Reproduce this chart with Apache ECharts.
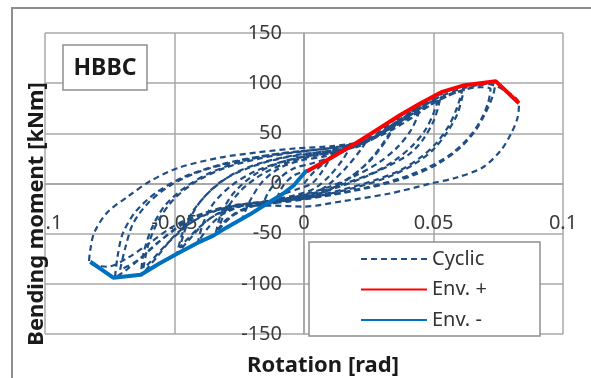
<!DOCTYPE html>
<html>
<head>
<meta charset="utf-8">
<script src="https://cdn.jsdelivr.net/npm/echarts@6/dist/echarts.min.js"></script>
<style>
html,body{margin:0;padding:0;background:#fff;}
#chart{width:591px;height:378px;}
</style>
</head>
<body>
<div id="chart"></div>
<script>
// ---- data (rotation [rad], bending moment [kNm]) ----
const seriesNames = ['Cyclic', 'Env. +', 'Env. -'];
const xTicks = [-0.1, -0.05, 0, 0.05, 0.1];
const yTicks = [-150, -100, -50, 0, 50, 100, 150];

const envPos = [[0.001,12],[0.010,25],[0.018,37],[0.026,50],[0.037,68],[0.045,80],[0.053,91],[0.062,98],[0.074,102],[0.083,80]];
const envNeg = [[0.001,13],[-0.004,-2],[-0.008,-10],[-0.013,-18],[-0.021,-31],[-0.030,-44],[-0.035,-52],[-0.041,-59],[-0.049,-70],[-0.056,-80],[-0.063,-91],[-0.0735,-94],[-0.0825,-78]];

const cyc1 = [[0,0],[0.004,12],[0.010,25],[0.007,12],[0.003,0],[-0.003,-6],[-0.010,-12],[-0.008,-2],[-0.004,8],[0.001,13]];
const cyc2 = [[0.008,22],[0.013,29],[0.018,37],[0.015,24],[0.010,8],[0.004,-5],[-0.004,-12],[-0.011,-16],[-0.016,-22],[-0.014,-10],[-0.010,4],[-0.004,15],[0.003,20]];
const cyc3 = [[0.010,26],[0.018,36],[0.026,50],[0.022,34],[0.016,15],[0.009,-2],[0.002,-12],[-0.007,-17],[-0.016,-23],[-0.024,-36],[-0.021,-18],[-0.016,2],[-0.009,16],[-0.001,23],[0.008,27]];
const cyc4 = [[0.016,33],[0.026,46],[0.037,68],[0.033,50],[0.027,28],[0.019,8],[0.010,-6],[0.001,-14],[-0.010,-18],[-0.020,-23],[-0.028,-33],[-0.034,-49],[-0.032,-30],[-0.027,-9],[-0.019,9],[-0.009,21],[0.001,27],[0.011,31]];
const cyc4b = [[0.020,37],[0.029,50],[0.036,62],[0.032,44],[0.026,24],[0.017,5],[0.008,-8],[-0.002,-15],[-0.013,-19],[-0.023,-25],[-0.030,-36],[-0.033,-45],[-0.030,-26],[-0.024,-6],[-0.015,11],[-0.005,22],[0.005,28],[0.014,32]];
const cyc45 = [[0.020,38],[0.030,50],[0.038,64],[0.045,80],[0.044,68],[0.041,52],[0.036,36],[0.029,21],[0.020,8],[0.010,-3],[0,-11],[-0.011,-17],[-0.022,-21],[-0.031,-30],[-0.037,-44],[-0.041,-59],[-0.039,-40],[-0.035,-20],[-0.028,-2],[-0.019,12],[-0.008,22],[0.004,29],[0.016,34]];
const cyc5 = [[0.022,38],[0.031,53],[0.042,73],[0.053,91],[0.052,78],[0.050,62],[0.046,44],[0.041,30],[0.033,18],[0.024,7],[0.014,-3],[0.004,-11],[-0.007,-16],[-0.018,-20],[-0.028,-25],[-0.037,-36],[-0.043,-52],[-0.049,-70],[-0.047,-50],[-0.043,-28],[-0.036,-7],[-0.027,10],[-0.016,21],[-0.004,28],[0.008,32],[0.018,36]];
const cyc5b = [[0.027,45],[0.037,62],[0.046,78],[0.052,86],[0.050,70],[0.047,54],[0.042,38],[0.035,23],[0.027,11],[0.017,1],[0.006,-8],[-0.005,-14],[-0.016,-18],[-0.026,-22],[-0.034,-31],[-0.041,-45],[-0.046,-58],[-0.048,-64],[-0.045,-40],[-0.040,-18],[-0.032,2],[-0.021,16],[-0.009,25],[0.003,30],[0.014,34]];
const cyc6 = [[0.024,41],[0.034,57],[0.046,80],[0.055,92],[0.062,98],[0.061,85],[0.059,68],[0.055,50],[0.050,34],[0.043,20],[0.034,8],[0.024,-1],[0.012,-9],[0,-15],[-0.012,-18],[-0.024,-21],[-0.034,-27],[-0.043,-38],[-0.050,-52],[-0.057,-74],[-0.063,-92],[-0.062,-70],[-0.059,-46],[-0.054,-23],[-0.046,-4],[-0.036,11],[-0.024,22],[-0.011,29],[0.003,33],[0.016,37]];
const cyc6b = [[0.026,45],[0.037,62],[0.048,80],[0.056,89],[0.061,92],[0.059,75],[0.056,58],[0.051,40],[0.045,26],[0.037,13],[0.027,3],[0.015,-6],[0.003,-13],[-0.009,-17],[-0.021,-20],[-0.032,-25],[-0.040,-33],[-0.047,-46],[-0.054,-63],[-0.060,-80],[-0.062,-84],[-0.060,-60],[-0.056,-36],[-0.050,-15],[-0.041,3],[-0.030,16],[-0.017,25],[-0.004,31],[0.009,35]];
const cyc7 = [[0.020,40],[0.030,50],[0.041,68],[0.052,86],[0.063,96],[0.074,101],[0.073,88],[0.070,70],[0.066,52],[0.060,35],[0.052,20],[0.043,9],[0.032,0],[0.020,-7],[0.007,-13],[-0.006,-18],[-0.019,-21],[-0.031,-25],[-0.043,-35],[-0.053,-52],[-0.062,-72],[-0.069,-87],[-0.073,-94],[-0.072,-73],[-0.070,-50],[-0.065,-28],[-0.057,-9],[-0.046,7],[-0.032,19],[-0.017,27],[-0.002,32],[0.013,36]];
const cyc7b = [[0.024,43],[0.035,57],[0.047,76],[0.058,90],[0.068,96],[0.072,94],[0.071,80],[0.068,62],[0.063,44],[0.056,28],[0.047,15],[0.037,5],[0.024,-4],[0.010,-11],[-0.004,-16],[-0.017,-19],[-0.028,-22],[-0.038,-29],[-0.047,-40],[-0.057,-60],[-0.065,-78],[-0.071,-86],[-0.069,-64],[-0.066,-40],[-0.060,-19],[-0.051,-1],[-0.039,13],[-0.024,23],[-0.009,30],[0.006,34],[0.018,38]];
const cyc8 = [[0.028,46],[0.039,61],[0.050,80],[0.061,93],[0.071,99],[0.078,92],[0.083,80],[0.0825,66],[0.080,50],[0.076,33],[0.069,16],[0.059,6],[0.049,0],[0.033,-10],[0.014,-18],[0,-23],[-0.013,-22],[-0.026,-23],[-0.038,-29],[-0.050,-42],[-0.060,-60],[-0.068,-74],[-0.076,-83],[-0.083,-78],[-0.0825,-66],[-0.081,-49],[-0.076,-29],[-0.068,-13],[-0.059,3],[-0.048,16],[-0.032,26],[-0.018,31],[-0.003,35],[0.010,37],[0.020,40]];

const cyclicData = [].concat(cyc1, cyc2, cyc3, cyc4, cyc4b, cyc45, cyc5, cyc5b, cyc6, cyc6b, cyc7, cyc7b, cyc8);

// ---- chart ----
const FONT = 'Noto Sans';
const W = 591, H = 378;
const G = {left: 45, right: 28, top: 33, bottom: 44};
const chart = echarts.init(document.getElementById('chart'), null, {renderer: 'canvas'});

// place axes where the other axis crosses zero
const plotW = W - G.left - G.right, plotH = H - G.top - G.bottom;
const xMin = xTicks[0], xMax = xTicks[xTicks.length - 1];
const yMin = yTicks[0], yMax = yTicks[yTicks.length - 1];
const yAxisOffset = -plotW * (0 - xMin) / (xMax - xMin);
const xAxisOffset = -plotH * (0 - yMin) / (yMax - yMin);

function fmtX(v) {
  return String(parseFloat(v.toFixed(3)));
}

chart.setOption({
  animation: false,
  backgroundColor: '#ffffff',
  grid: {left: G.left, right: G.right, top: G.top, bottom: G.bottom, containLabel: false},
  xAxis: {
    type: 'value', position: 'bottom', offset: xAxisOffset,
    min: xMin, max: xMax, interval: 0.05,
    axisLine: {show: true, onZero: false, lineStyle: {color: '#a3a3a3', width: 1.5}},
    axisTick: {show: false},
    splitLine: {show: true, lineStyle: {color: '#a8a8a8', width: 1.5}},
    axisLabel: {
      margin: 30, fontSize: 20, fontFamily: FONT, color: '#3a3a3a',
      formatter: function (v) {
        const s = fmtX(v);
        if (Math.abs(v - xMin) < 1e-9) return '{h|' + s.slice(0, 2) + '}{n|' + s.slice(2) + '}';
        return '{n|' + s + '}';
      },
      rich: {
        h: {fontSize: 20, fontFamily: FONT, color: 'rgba(0,0,0,0)'},
        n: {fontSize: 20, fontFamily: FONT, color: '#3a3a3a'}
      }
    }
  },
  yAxis: {
    type: 'value', position: 'left', offset: yAxisOffset,
    min: yMin, max: yMax, interval: 50,
    axisLine: {show: true, onZero: false, lineStyle: {color: '#a3a3a3', width: 1.5}},
    axisTick: {show: false},
    splitLine: {show: true, lineStyle: {color: '#a8a8a8', width: 1.5}},
    axisLabel: {margin: 22, fontSize: 20, fontFamily: FONT, color: '#3a3a3a'}
  },
  legend: {
    data: seriesNames,
    orient: 'vertical',
    left: 360, top: 249,
    padding: 0,
    itemWidth: 66, itemHeight: 14, itemGap: 10.5,
    itemStyle: {opacity: 0},
    textStyle: {fontSize: 20, fontFamily: FONT, color: '#333', lineHeight: 20},
    z: 20
  },
  graphic: [
    {type: 'polyline', z: 1, silent: true, shape: {points: [[12, 378], [12, 8], [591, 8]]}, style: {stroke: '#8e8e8e', lineWidth: 2, fill: null}},
    {type: 'rect', z: 15, silent: true, shape: {x: 63, y: 45, width: 84, height: 45}, style: {fill: '#ffffff', stroke: '#8e8e8e', lineWidth: 1.5}},
    {type: 'text', z: 16, silent: true, x: 105, y: 68, style: {text: 'HBBC', font: 'bold 23px "Noto Sans"', fill: '#1a1a1a', align: 'center', verticalAlign: 'middle'}},
    {type: 'rect', z: 15, silent: true, shape: {x: 309, y: 242, width: 231, height: 94}, style: {fill: '#ffffff', stroke: '#8e8e8e', lineWidth: 1.5}},
    {type: 'text', z: 16, silent: true, x: 323, y: 366, style: {text: 'Rotation [rad]', font: 'bold 22px "Noto Sans"', fill: '#1a1a1a', align: 'center', verticalAlign: 'middle'}},
    {type: 'text', z: 16, silent: true, x: 37, y: 214, rotation: Math.PI / 2, style: {text: 'Bending moment [kNm]', font: 'bold 22px "Noto Sans"', fill: '#1a1a1a', align: 'center', verticalAlign: 'middle'}}
  ],
  series: [
    {
      name: seriesNames[0], type: 'line', data: cyclicData, symbol: 'none', smooth: 0.3,
      lineStyle: {color: '#1f4e85', width: 2.2, type: [6, 4]}, itemStyle: {color: '#1f4e85'}, z: 2
    },
    {
      name: seriesNames[1], type: 'line', data: envPos, symbol: 'none',
      lineStyle: {color: '#ff0000', width: 4}, itemStyle: {color: '#ff0000'}, z: 3
    },
    {
      name: seriesNames[2], type: 'line', data: envNeg, symbol: 'none',
      lineStyle: {color: '#0070c0', width: 4}, itemStyle: {color: '#0070c0'}, z: 3
    }
  ]
});
</script>
</body>
</html>
